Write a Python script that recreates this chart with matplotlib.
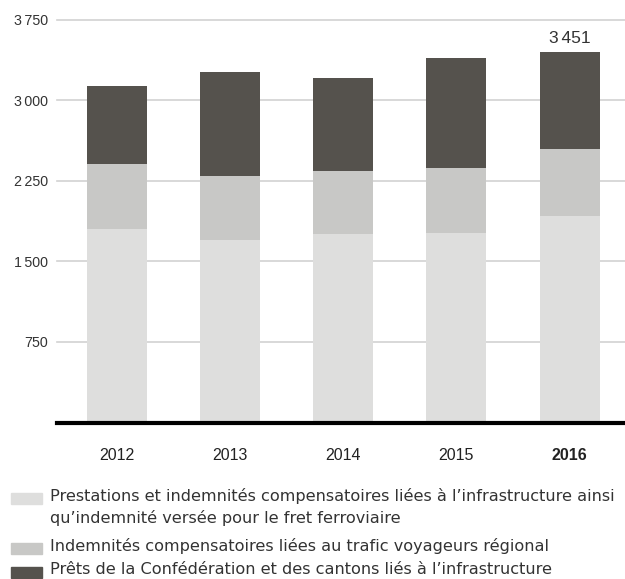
import matplotlib
matplotlib.use("Agg")
import matplotlib.pyplot as plt
from matplotlib.patches import Rectangle
import numpy as np

plt.rcParams['font.family'] = ['Liberation Sans', 'DejaVu Sans']

years = ["2012", "2013", "2014", "2015", "2016"]
infra_prestations = [1806, 1701, 1757, 1766, 1924]
trafic_regional = [601, 595, 585, 604, 622]
prets_infra = [725, 966, 864, 1022, 905]
total_label = "3\u2006451"
yticks = [750, 1500, 2250, 3000, 3750]
ytick_labels = ["750", "1\u2006500", "2\u2006250", "3\u2006000", "3\u2006750"]
legend_labels = [
    "Prestations et indemnités compensatoires liées à l\u2019infrastructure ainsi\nqu\u2019indemnité versée pour le fret ferroviaire",
    "Indemnités compensatoires liées au trafic voyageurs régional",
    "Prêts de la Confédération et des cantons liés à l\u2019infrastructure",
]
colors = ["#dededd", "#c8c8c6", "#55524d"]

W, H = 625, 579
fig = plt.figure(figsize=(W / 100, H / 100), dpi=100)
ax_left, ax_right = 57, 625
ax_top, ax_bottom = 19.7, 422.5
ax = fig.add_axes([ax_left / W, 1 - ax_bottom / H, (ax_right - ax_left) / W, (ax_bottom - ax_top) / H])

x = np.arange(len(years))
b1 = np.array(infra_prestations)
b2 = np.array(trafic_regional)
b3 = np.array(prets_infra)
ax.bar(x, b1, width=0.53, color=colors[0], zorder=2)
ax.bar(x, b2, bottom=b1, width=0.53, color=colors[1], zorder=2)
ax.bar(x, b3, bottom=b1 + b2, width=0.53, color=colors[2], zorder=2)

tot = b1 + b2 + b3
ax.text(x[-1], tot[-1] + 55, total_label, ha='center', va='bottom', fontsize=12.5,
        color='#333333')

ax.set_xlim(-0.53, 4.49)
ax.set_ylim(0, 3750)
for yv in yticks:
    ax.axhline(yv, color='#d2d2d2', lw=1.2, zorder=1, clip_on=False)
ax.axhline(0, color='black', lw=3, zorder=3, clip_on=False)

ax.set_yticks(yticks)
ax.set_yticklabels(ytick_labels, fontsize=10.3, color='#333333')
ax.tick_params(axis='y', length=0, pad=6.5)
ax.set_xticks(x)
ax.set_xticklabels(years, fontsize=11.5, color='#222222')
ax.get_xticklabels()[-1].set_fontweight('bold')
ax.tick_params(axis='x', length=0, pad=18)
for s in ax.spines.values():
    s.set_visible(False)

# legend
rows = [498, 548, 572]
for lab, col, yc in zip(legend_labels, colors, rows):
    fig.patches.append(Rectangle((11 / W, 1 - (yc + 5.5) / H), 31 / W, 11 / H,
                                 transform=fig.transFigure, color=col, figure=fig))
    fig.text(50 / W, 1 - (yc - 9.5) / H, lab, ha='left', va='top', fontsize=11.6,
             color='#333333', linespacing=1.4, family=['DejaVu Sans'])

fig.savefig("out.png", dpi=100)
